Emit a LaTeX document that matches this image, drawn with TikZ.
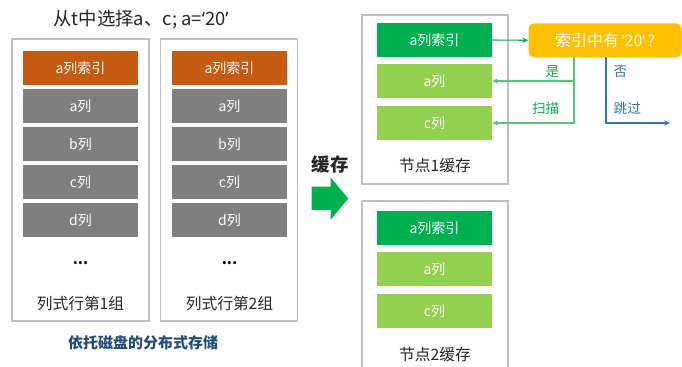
\documentclass[tikz,border=0pt]{standalone}
\usepackage{fontspec}
\setmainfont{Noto Sans CJK SC}
\newfontfamily\latinq{Noto Sans}
\newcommand{\myoq}{{\latinq ‘}}
\newcommand{\mycq}{{\latinq ’}}
\usetikzlibrary{arrows.meta}
\definecolor{orng}{HTML}{C55A11}
\definecolor{gry}{HTML}{7F7F7F}
\definecolor{dgreen}{HTML}{00B050}
\definecolor{lgreen}{HTML}{92D050}
\definecolor{yell}{HTML}{FFC000}
\definecolor{bord}{HTML}{BFBFBF}
\definecolor{linegreen}{HTML}{50C878}
\definecolor{lblue}{HTML}{2E75B6}
\definecolor{dblue}{HTML}{1F4E79}
\definecolor{txt}{HTML}{262626}
\tikzset{
  bar/.style={minimum width=86.25pt, minimum height=25.5pt, inner sep=0pt, text=white, font=\fontsize{10.5}{12}\selectfont},
  rbar/.style={bar, minimum height=25pt},
  outerbox/.style={draw=bord, line width=1.1pt},
  boxlabel/.style={font=\fontsize{11.8}{14}\selectfont, text=txt},
  tip/.style={-{Stealth[length=4.5pt,width=4pt]}},
  branchlbl/.style={font=\fontsize{10.2}{12}\selectfont},
}
\begin{document}
\begin{tikzpicture}[x=0.75pt,y=-0.75pt]
\useasboundingbox (0,0) rectangle (682,367);
% title
\node[font=\fontsize{13.8}{16}\selectfont, text=txt] (title) at (141,20) {从t中选择a、c; a=\myoq20\mycq};
% left boxes
\draw[outerbox] (12,39) rectangle (149,321);
\draw[outerbox] (160.7,39) rectangle (297.3,321);
\node[bar, fill=orng] (g1i) at (80.5,68) {a列索引};
\node[bar, fill=gry] (g1a) at (80.5,106) {a列};
\node[bar, fill=gry] (g1b) at (80.5,144) {b列};
\node[bar, fill=gry] (g1c) at (80.5,182) {c列};
\node[bar, fill=gry] (g1d) at (80.5,220) {d列};
\node[font=\bfseries\fontsize{11}{13}\selectfont] (g1dots) at (80.5,263) {...};
\node[boxlabel] (g1l) at (80.5,304) {列式行第1组};
\node[bar, fill=orng] (g2i) at (229.5,68) {a列索引};
\node[bar, fill=gry] (g2a) at (229.5,106) {a列};
\node[bar, fill=gry] (g2b) at (229.5,144) {b列};
\node[bar, fill=gry] (g2c) at (229.5,182) {c列};
\node[bar, fill=gry] (g2d) at (229.5,220) {d列};
\node[font=\bfseries\fontsize{11}{13}\selectfont] (g2dots) at (229.5,263) {...};
\node[boxlabel] (g2l) at (229.5,304) {列式行第2组};
\node[font=\bfseries\fontsize{11.25}{13}\selectfont, text=dblue] (disk) at (143,343) {依托磁盘的分布式存储};
% big arrow
\node[font=\bfseries\fontsize{13.8}{15}\selectfont, text=txt] (cache) at (330,164) {缓存};
\fill[dgreen] (311.7,186.7) -- (330.5,186.7) -- (330.5,177.3) -- (348.3,198.5) -- (330.5,220) -- (330.5,210) -- (311.7,210) -- cycle;
% node 1
\draw[outerbox] (362,15) rectangle (508,184);
\node[rbar, fill=dgreen] (n1i) at (434.5,40) {a列索引};
\node[rbar, fill=lgreen] (n1a) at (434.5,81) {a列};
\node[rbar, fill=lgreen] (n1c) at (434.5,123) {c列};
\node[boxlabel] (n1l) at (435,166) {节点1缓存};
% node 2
\draw[outerbox] (362,201) -- (362,380) (508,380) -- (508,201) -- (362,201);
\node[rbar, fill=dgreen] (n2i) at (434.5,228) {a列索引};
\node[rbar, fill=lgreen] (n2a) at (434.5,269) {a列};
\node[rbar, fill=lgreen] (n2c) at (434.5,311) {c列};
\node[boxlabel] (n2l) at (435,355) {节点2缓存};
% decision
\node[fill=yell, rounded corners=4pt, minimum width=114.75pt, minimum height=25.5pt, inner sep=0pt, text=white, font=\fontsize{12}{14}\selectfont] (dec) at (605,40.3) {索引中有\,\myoq20\mycq\,{\latinq ?}};
\draw[dgreen, line width=0.8pt, tip] (n1i.east) -- (dec.west);
\coordinate (ysplit) at (574,57.3);
\coordinate (ybr) at (574,81);
\draw[linegreen, line width=0.9pt, tip] (ysplit) |- (n1c.east);
\draw[linegreen, line width=0.9pt, tip] (ybr) -- (n1a.east);
\coordinate (nsplit) at (606,57.3);
\coordinate (skip) at (670,123);
\draw[lblue, line width=0.9pt, tip] (nsplit) |- (skip);
\node[anchor=east, text=dgreen, branchlbl] (yes) at (564,72) {是};
\node[anchor=east, text=dgreen, branchlbl] (scan) at (564,108) {扫描};
\node[anchor=west, text=lblue, branchlbl] (no) at (609,72) {否};
\node[anchor=west, text=lblue, branchlbl] (skipl) at (609,108) {跳过};
\end{tikzpicture}
\end{document}
